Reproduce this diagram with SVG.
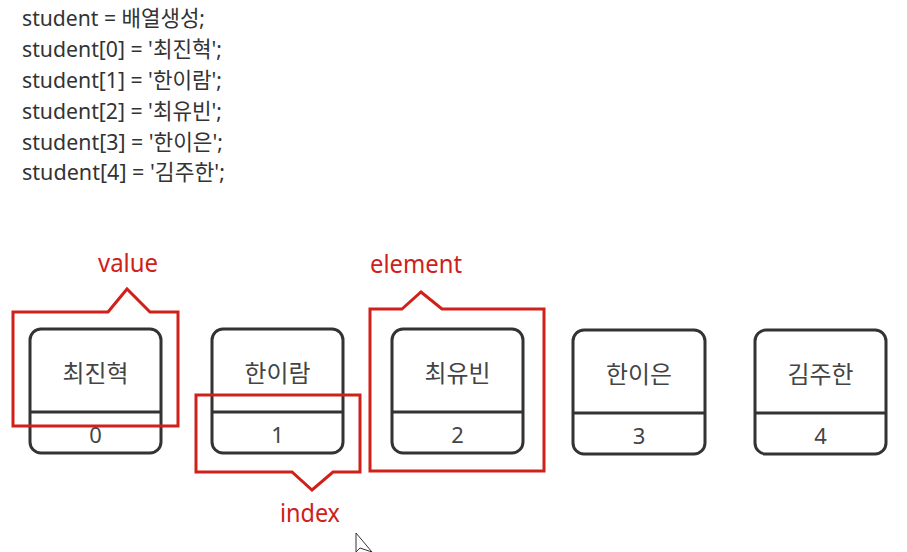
<svg xmlns="http://www.w3.org/2000/svg" width="907" height="552" viewBox="0 0 907 552">
<style>
.code{font-family:"Noto Sans","Noto Sans CJK KR",sans-serif;font-size:22px;fill:#333}
.box{fill:#fff;stroke:#333;stroke-width:3}
.div{stroke:#333;stroke-width:3}
.name{font-family:"Noto Sans","Noto Sans CJK KR",sans-serif;font-size:24px;fill:#444;text-anchor:middle}
.idx{font-family:"Noto Sans","Noto Sans CJK KR",sans-serif;font-size:22px;fill:#444;text-anchor:middle}
.call{fill:none;stroke:#d0201a;stroke-width:3}
.lbl{font-family:"Noto Sans",sans-serif;font-size:26px;fill:#d0201a;text-anchor:middle}
</style>
<rect width="907" height="552" fill="#fff"/>
<g id="code">
<text class="code" x="22" y="26" textLength="183" lengthAdjust="spacingAndGlyphs">student = 배열생성;</text>
<text class="code" x="22" y="57" textLength="200" lengthAdjust="spacingAndGlyphs">student[0] = '최진혁';</text>
<text class="code" x="22" y="88" textLength="200" lengthAdjust="spacingAndGlyphs">student[1] = '한이람';</text>
<text class="code" x="22" y="119" textLength="200" lengthAdjust="spacingAndGlyphs">student[2] = '최유빈';</text>
<text class="code" x="22" y="150" textLength="201" lengthAdjust="spacingAndGlyphs">student[3] = '한이은';</text>
<text class="code" x="22" y="180" textLength="203" lengthAdjust="spacingAndGlyphs">student[4] = '김주한';</text>
</g>
<g id="node0">
<rect class="box" x="30" y="329" width="131" height="124" rx="11"/>
<line class="div" x1="30" y1="412" x2="161" y2="412"/>
<text class="name" x="95.5" y="382" textLength="66" lengthAdjust="spacingAndGlyphs">최진혁</text>
<text class="idx" x="95.5" y="443">0</text>
</g>
<g id="node1">
<rect class="box" x="212" y="329" width="131" height="124" rx="11"/>
<line class="div" x1="212" y1="412" x2="343" y2="412"/>
<text class="name" x="277.5" y="382" textLength="66" lengthAdjust="spacingAndGlyphs">한이람</text>
<text class="idx" x="277.5" y="443">1</text>
</g>
<g id="node2">
<rect class="box" x="392" y="329" width="131" height="124" rx="11"/>
<line class="div" x1="392" y1="412" x2="523" y2="412"/>
<text class="name" x="457.5" y="382" textLength="66" lengthAdjust="spacingAndGlyphs">최유빈</text>
<text class="idx" x="457.5" y="443">2</text>
</g>
<g id="node3">
<rect class="box" x="573" y="330" width="132" height="124" rx="11"/>
<line class="div" x1="573" y1="413" x2="705" y2="413"/>
<text class="name" x="639" y="383" textLength="66" lengthAdjust="spacingAndGlyphs">한이은</text>
<text class="idx" x="639" y="444">3</text>
</g>
<g id="node4">
<rect class="box" x="755" y="330" width="131" height="124" rx="11"/>
<line class="div" x1="755" y1="413" x2="886" y2="413"/>
<text class="name" x="820.5" y="383" textLength="66" lengthAdjust="spacingAndGlyphs">김주한</text>
<text class="idx" x="820.5" y="444">4</text>
</g>
<g id="connectors">
<path class="call" d="M108 312 L127 289 L150 312 L178 312 L178 426 L13 426 L13 312 Z"/>
<path class="call" d="M402 309 L421 292 L442 309 L544 309 L544 471 L370 471 L370 309 Z"/>
<path class="call" d="M196 395 L360 395 L360 472 L333 472 L312 490 L292 472 L196 472 Z"/>
</g>
<g id="labels">
<text class="lbl" x="128" y="272" textLength="60" lengthAdjust="spacingAndGlyphs">value</text>
<text class="lbl" x="416" y="273" textLength="92" lengthAdjust="spacingAndGlyphs">element</text>
<text class="lbl" x="310" y="522" textLength="60" lengthAdjust="spacingAndGlyphs">index</text>
</g>
<path id="cursor" d="M356 533 L356 552 L360 548 L372 552 Z" fill="#fff" stroke="#333" stroke-width="1"/>
</svg>
